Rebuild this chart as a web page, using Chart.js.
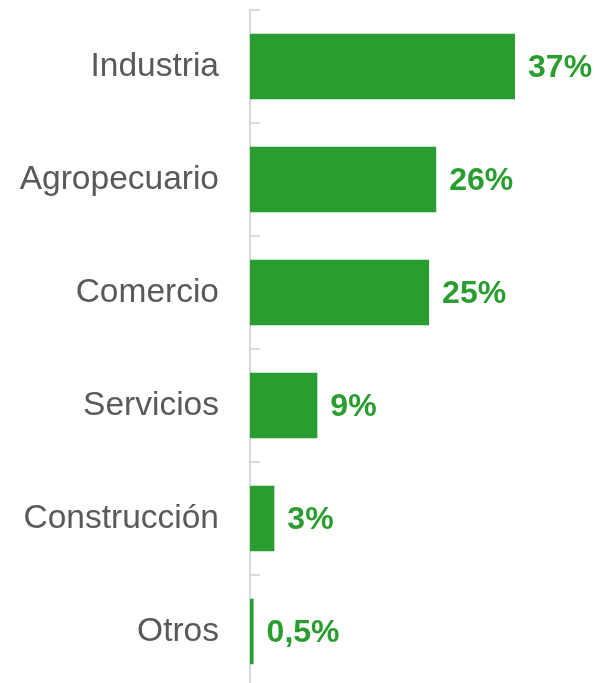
<!DOCTYPE html>
<html>
<head>
<meta charset="utf-8">
<script src="https://cdn.jsdelivr.net/npm/chart.js@4/dist/chart.umd.min.js"></script>
<style>
  html, body { margin: 0; padding: 0; background: #fff; overflow: hidden; }
  #wrap { width: 601px; height: 688px; position: relative; }
</style>
</head>
<body>
<div id="wrap"><canvas id="barChart"></canvas></div>
<script>
var categories = ["Industria", "Agropecuario", "Comercio", "Servicios", "Construcción", "Otros"];
var shares = [37, 26, 25, 9.4, 3.4, 0.5];
var shareLabels = ["37%", "26%", "25%", "9%", "3%", "0,5%"];

var green = '#2a9d30';

// etiquetas de valor al final de cada barra
var valueLabels = {
    id: 'valueLabels',
    afterDatasetsDraw: function (chart) {
        var ctx = chart.ctx;
        var meta = chart.getDatasetMeta(0);
        ctx.save();
        ctx.fillStyle = green;
        ctx.font = 'bold 32px "Liberation Sans", Arial, sans-serif';
        ctx.textAlign = 'left';
        ctx.textBaseline = 'middle';
        meta.data.forEach(function (bar, i) {
            ctx.fillText(shareLabels[i], bar.x + 13, bar.y + 2);
        });
        ctx.restore();
    }
};

// marcas cortas entre categorias, hacia la derecha del eje
var axisTicks = {
    id: 'axisTicks',
    afterDraw: function (chart) {
        var area = chart.chartArea;
        var ctx = chart.ctx;
        var n = categories.length;
        var step = (area.bottom - area.top) / n;
        ctx.save();
        ctx.strokeStyle = '#d9d9d9';
        ctx.lineWidth = 2;
        for (var i = 0; i < n; i++) {
            var y = Math.round(area.top + i * step);
            ctx.beginPath();
            ctx.moveTo(area.left, y);
            ctx.lineTo(area.left + 10, y);
            ctx.stroke();
        }
        ctx.restore();
    }
};

var ctxB = document.getElementById("barChart").getContext('2d');
var myBarChart = new Chart(ctxB, {
    type: 'bar',
    data: {
        labels: categories,
        datasets: [{
            data: shares,
            backgroundColor: green,
            borderWidth: 0,
            barPercentage: 0.58,
            categoryPercentage: 1
        }]
    },
    options: {
        indexAxis: 'y',
        responsive: true,
        maintainAspectRatio: false,
        animation: false,
        layout: { padding: { top: 10, right: 0, bottom: 0, left: 0 } },
        plugins: {
            legend: { display: false },
            tooltip: { enabled: false }
        },
        scales: {
            x: {
                display: false,
                min: 0,
                max: 49
            },
            y: {
                grid: { display: false, drawTicks: false, tickLength: 0 },
                border: { display: true, color: '#d9d9d9', width: 2 },
                ticks: {
                    color: '#595959',
                    padding: 31,
                    font: { family: '"Liberation Sans", Arial, sans-serif', size: 33.5 }
                },
                afterFit: function (scale) {
                    scale.width = 250;
                    scale.paddingTop = 0;
                    scale.paddingBottom = 0;
                }
            }
        }
    },
    plugins: [valueLabels, axisTicks]
});
</script>
</body>
</html>
